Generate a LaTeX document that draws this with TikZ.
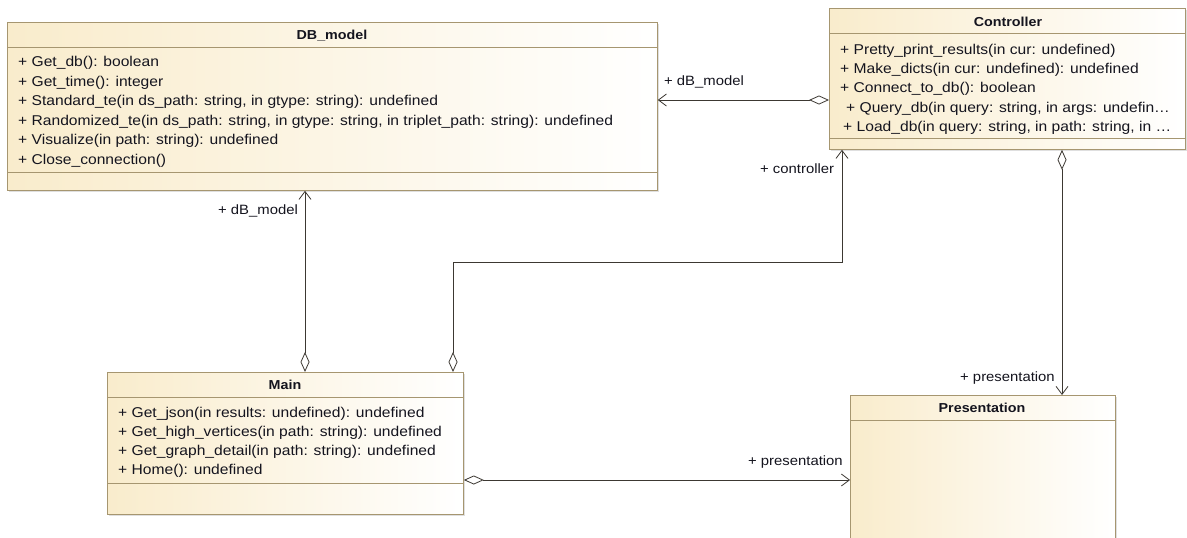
\documentclass[tikz,border=0pt]{standalone}
\usepackage{fontspec}
\setmainfont{Liberation Sans}[FakeStretch=1.1]
\usetikzlibrary{arrows.meta,shadows}
\definecolor{umlfill}{RGB}{249,236,204}
\definecolor{umlborder}{RGB}{166,150,112}
\definecolor{umltext}{RGB}{20,20,30}
\definecolor{umlline}{RGB}{60,56,50}
\begin{document}
\begin{tikzpicture}[x=1pt,y=-1pt,
  classbox/.style={draw=umlborder, line width=0.8pt, left color=umlfill, right color=white, anchor=north west, inner sep=0pt,
    drop shadow={shadow xshift=1.5pt, shadow yshift=-1.5pt, opacity=0.25, fill=gray}},
  clstitle/.style={font=\fontsize{13}{15}\selectfont\bfseries, text=umltext, anchor=base, inner sep=0pt},
  meth/.style={font=\fontsize{14.2}{16}\selectfont, text=umltext, anchor=base west, inner sep=0pt},
  rolelabel/.style={font=\fontsize{13.5}{15}\selectfont, text=umltext, anchor=base west, inner sep=0pt},
  umlsep/.style={draw=umlborder, line width=0.8pt},
  assoc/.style={draw=umlline, line width=0.8pt, {Diamond[open,length=20pt,width=9pt]}-{Straight Barb[length=8pt,width=12pt]}}]
\useasboundingbox (0,0) rectangle (1187,538);
\fill[white] (0,0) rectangle (1187,538);

% DB_model
\node[classbox, minimum width=650pt, minimum height=168pt] (db) at (7,22) {};
\draw[umlsep] (db.west |- 0,47) -- (db.east |- 0,47);
\draw[umlsep] (db.west |- 0,172) -- (db.east |- 0,172);
\node[clstitle] (dbt) at (332,39) {DB\_model};
\node[meth] (db1) at (18,66.5) {+ Get\_db(): boolean};
\node[meth] (db2) at (18,86) {+ Get\_time(): integer};
\node[meth] (db3) at (18,105.5) {+ Standard\_te(in ds\_path: string, in gtype: string): undefined};
\node[meth] (db4) at (18,125) {+ Randomized\_te(in ds\_path: string, in gtype: string, in triplet\_path: string): undefined};
\node[meth] (db5) at (18,144.5) {+ Visualize(in path: string): undefined};
\node[meth] (db6) at (18,164) {+ Close\_connection()};

% Controller
\node[classbox, minimum width=356pt, minimum height=141pt] (ctrl) at (829,8) {};
\draw[umlsep] (ctrl.west |- 0,33) -- (ctrl.east |- 0,33);
\draw[umlsep] (ctrl.west |- 0,138) -- (ctrl.east |- 0,138);
\node[clstitle] (ctrlt) at (1008,26) {Controller};
\node[meth] (c1) at (840,54) {+ Pretty\_print\_results(in cur: undefined)};
\node[meth] (c2) at (840,73) {+ Make\_dicts(in cur: undefined): undefined};
\node[meth] (c3) at (840,92) {+ Connect\_to\_db(): boolean};
\node[meth] (c4) at (846,112) {+ Query\_db(in query: string, in args: undefin…};
\node[meth] (c5) at (843,131) {+ Load\_db(in query: string, in path: string, in …};

% Main
\node[classbox, minimum width=356pt, minimum height=142pt] (main) at (107,372) {};
\draw[umlsep] (main.west |- 0,397) -- (main.east |- 0,397);
\draw[umlsep] (main.west |- 0,483) -- (main.east |- 0,483);
\node[clstitle] (maint) at (285,389) {Main};
\node[meth] (m1) at (118,417) {+ Get\_json(in results: undefined): undefined};
\node[meth] (m2) at (118,436) {+ Get\_high\_vertices(in path: string): undefined};
\node[meth] (m3) at (118,455) {+ Get\_graph\_detail(in path: string): undefined};
\node[meth] (m4) at (118,474) {+ Home(): undefined};

% Presentation
\node[classbox, minimum width=265pt, minimum height=160pt] (pres) at (850,395) {};
\draw[umlsep] (pres.west |- 0,420) -- (pres.east |- 0,420);
\node[clstitle] (prest) at (982,412) {Presentation};

% Associations
\draw[assoc] (ctrl.west |- 0,100) -- (db.east |- 0,100);
\draw[assoc] (305,0 |- main.north) -- (305,0 |- db.south);
\draw[assoc] (453,0 |- main.north) -- (453,262) -- (842,262) -- (842,0 |- ctrl.south);
\draw[assoc] (1062,0 |- ctrl.south) -- (1062,0 |- pres.north);
\draw[assoc] (main.east |- 0,480) -- (pres.west |- 0,480);

% Role labels
\node[rolelabel] (r1) at (664,85) {+ dB\_model};
\node[rolelabel] (r2) at (218,214) {+ dB\_model};
\node[rolelabel] (r3) at (760,173) {+ controller};
\node[rolelabel] (r4) at (960,381) {+ presentation};
\node[rolelabel] (r5) at (748,465) {+ presentation};
\end{tikzpicture}
\end{document}
